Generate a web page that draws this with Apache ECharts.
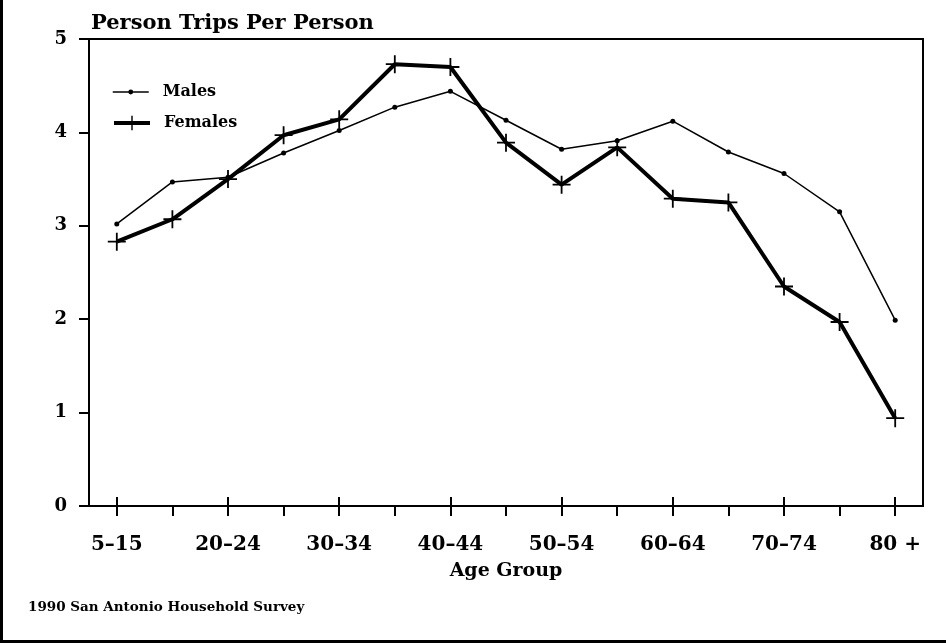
<!DOCTYPE html>
<html>
<head>
<meta charset="utf-8">
<title>Person Trips Per Person</title>
<script src="https://cdn.jsdelivr.net/npm/echarts@6/dist/echarts.min.js"></script>
<style>
html, body { margin: 0; padding: 0; background: #fff; }
#main { width: 946px; height: 643px; }
</style>
</head>
<body>
<div id="main"></div>
<script>
// age groups (every other one is labelled on the axis)
var ageGroups = ['5–15', '16–19', '20–24', '25–29', '30–34', '35–39', '40–44', '45–49',
                 '50–54', '55–59', '60–64', '65–69', '70–74', '75–79', '80 +'];
var males   = [3.02, 3.47, 3.52, 3.78, 4.02, 4.27, 4.44, 4.13, 3.82, 3.91, 4.12, 3.79, 3.56, 3.15, 1.99];
var females = [2.83, 3.07, 3.50, 3.97, 4.14, 4.73, 4.70, 3.89, 3.44, 3.84, 3.29, 3.25, 2.35, 1.97, 0.94];
var yTicks  = [0, 1, 2, 3, 4, 5];

var serif = 'DejaVu Serif';
var plusPath = 'path://M-1,-10 L1,-10 L1,-1 L10,-1 L10,1 L1,1 L1,10 L-1,10 L-1,1 L-10,1 L-10,-1 L-1,-1 Z';

function evenOnly(i) { return i % 2 === 0; }

var legendText = { fontFamily: serif, fontWeight: 'bold', fontSize: 16, color: '#000', padding: [0, 0, 0, 9] };

var myChart = echarts.init(document.getElementById('main'));
var option = {
    backgroundColor: '#fff',
    animation: false,
    title: [
        {
            text: 'Person Trips Per Person',
            left: 86, top: 8,
            textStyle: { fontFamily: serif, fontWeight: 'bold', fontSize: 21, color: '#000' }
        },
        {
            text: '1990 San Antonio Household Survey',
            left: 23, top: 595,
            textStyle: { fontFamily: serif, fontWeight: 'bold', fontSize: 13.5, color: '#000' }
        }
    ],
    // two legends so each key gets its own marker size
    legend: [
        {
            left: 107, top: 79,
            itemWidth: 36, itemHeight: 6,
            textStyle: legendText,
            data: [{ name: 'Males', lineStyle: { width: 1.5 } }]
        },
        {
            left: 107, top: 110,
            itemWidth: 36, itemHeight: 18,
            textStyle: legendText,
            data: [{ name: 'Females', lineStyle: { width: 4 } }]
        }
    ],
    grid: {
        left: 89, right: 23, top: 39, bottom: 137,
        show: true, borderColor: '#000', borderWidth: 2, backgroundColor: 'transparent'
    },
    xAxis: [
        {
            type: 'category',
            data: ageGroups,
            boundaryGap: true,
            name: 'Age Group',
            nameLocation: 'middle',
            nameGap: 56,
            nameTextStyle: { fontFamily: serif, fontWeight: 'bold', fontSize: 19, color: '#000' },
            axisLine: { show: true, lineStyle: { color: '#000', width: 2 } },
            axisTick: { show: true, alignWithLabel: true, interval: 0, length: 10, lineStyle: { color: '#000', width: 2 } },
            axisLabel: {
                interval: 1, margin: 29,
                fontFamily: serif, fontWeight: 'bold', fontSize: 20, color: '#000'
            },
            splitLine: { show: false }
        },
        {
            type: 'category',
            data: ageGroups,
            boundaryGap: true,
            position: 'bottom',
            axisLine: { show: false },
            axisTick: { show: true, alignWithLabel: true, inside: true, interval: evenOnly, length: 9, lineStyle: { color: '#000', width: 2 } },
            axisLabel: { show: false },
            splitLine: { show: false }
        }
    ],
    yAxis: {
        type: 'value',
        min: yTicks[0], max: yTicks[yTicks.length - 1], interval: 1,
        axisLine: { show: true, lineStyle: { color: '#000', width: 2 } },
        axisTick: { show: true, length: 10, lineStyle: { color: '#000', width: 2 } },
        axisLabel: { margin: 22, fontFamily: serif, fontWeight: 'bold', fontSize: 18, color: '#000' },
        splitLine: { show: false }
    },
    graphic: [
        { type: 'line', shape: { x1: 1.5, y1: 0, x2: 1.5, y2: 643 }, style: { stroke: '#000', lineWidth: 3 } },
        { type: 'line', shape: { x1: 0, y1: 641.5, x2: 946, y2: 641.5 }, style: { stroke: '#000', lineWidth: 3 } }
    ],
    series: [
        {
            name: 'Males',
            type: 'line',
            data: males,
            symbol: 'circle',
            symbolSize: 5,
            itemStyle: { color: '#000' },
            lineStyle: { color: '#000', width: 1.5 }
        },
        {
            name: 'Females',
            type: 'line',
            data: females,
            symbol: plusPath,
            symbolSize: 18,
            itemStyle: { color: '#000' },
            lineStyle: { color: '#000', width: 4 }
        }
    ]
};
myChart.setOption(option);
</script>
</body>
</html>
